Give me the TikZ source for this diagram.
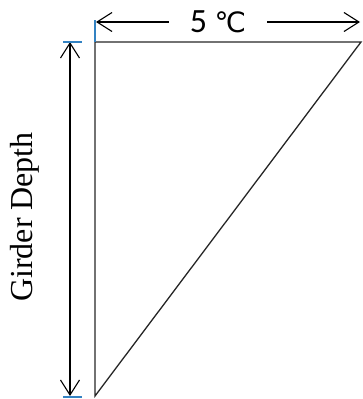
\documentclass[tikz,border=0pt]{standalone}
\usepackage{fontspec}
\setmainfont{Liberation Serif}
\newfontfamily\labelfont{Carlito}
\newfontfamily\symfont{DejaVu Sans}
\usetikzlibrary{arrows.meta,positioning,calc}

\begin{document}
\begin{tikzpicture}[x=1pt,y=-1pt,barb/.style={line width=1.1pt,-{Straight Barb[length=15pt,width=19pt]}},dim/.style={barb,{Straight Barb[length=15pt,width=19pt]}-{Straight Barb[length=15pt,width=19pt]}},ext/.style={color=blue!45!cyan!70!black!80,line width=1.5pt},edgeline/.style={line width=1.3pt,black!85}] 
\useasboundingbox (0,0) rectangle (362,399);
\coordinate (tl) at (95,42); \coordinate (tr) at (361,42); \coordinate (bl) at (95,396);
\coordinate (hl) at (96,22); \coordinate (hr) at (360,22);
\coordinate (vt) at (70,42); \coordinate (vb) at (70,396);
\node[inner sep=0pt,minimum width=98pt,minimum height=30pt] (temp) at (218,22) {\labelfont\fontsize{34}{40}\selectfont 5 {\symfont\fontsize{28}{34}\selectfont ℃}};
\node[rotate=90] (depth) at (25,217) {\fontsize{32}{36}\selectfont Girder Depth};
\draw[edgeline] (tl) -- (tr) -- (bl) -- cycle;
\path[barb]
(temp.west) edge (hl)
(temp.east) edge (hr)
;
\path[dim]
(vt) edge (vb)
;
\path[ext]
(tl) edge ($(tl)+(0,-22)$)
($(vt)+(-7,0)$) edge ($(vt)+(12,0)$)
($(vb)+(-7,1)$) edge ($(vb)+(12,1)$)
;
\end{tikzpicture}
\end{document}
